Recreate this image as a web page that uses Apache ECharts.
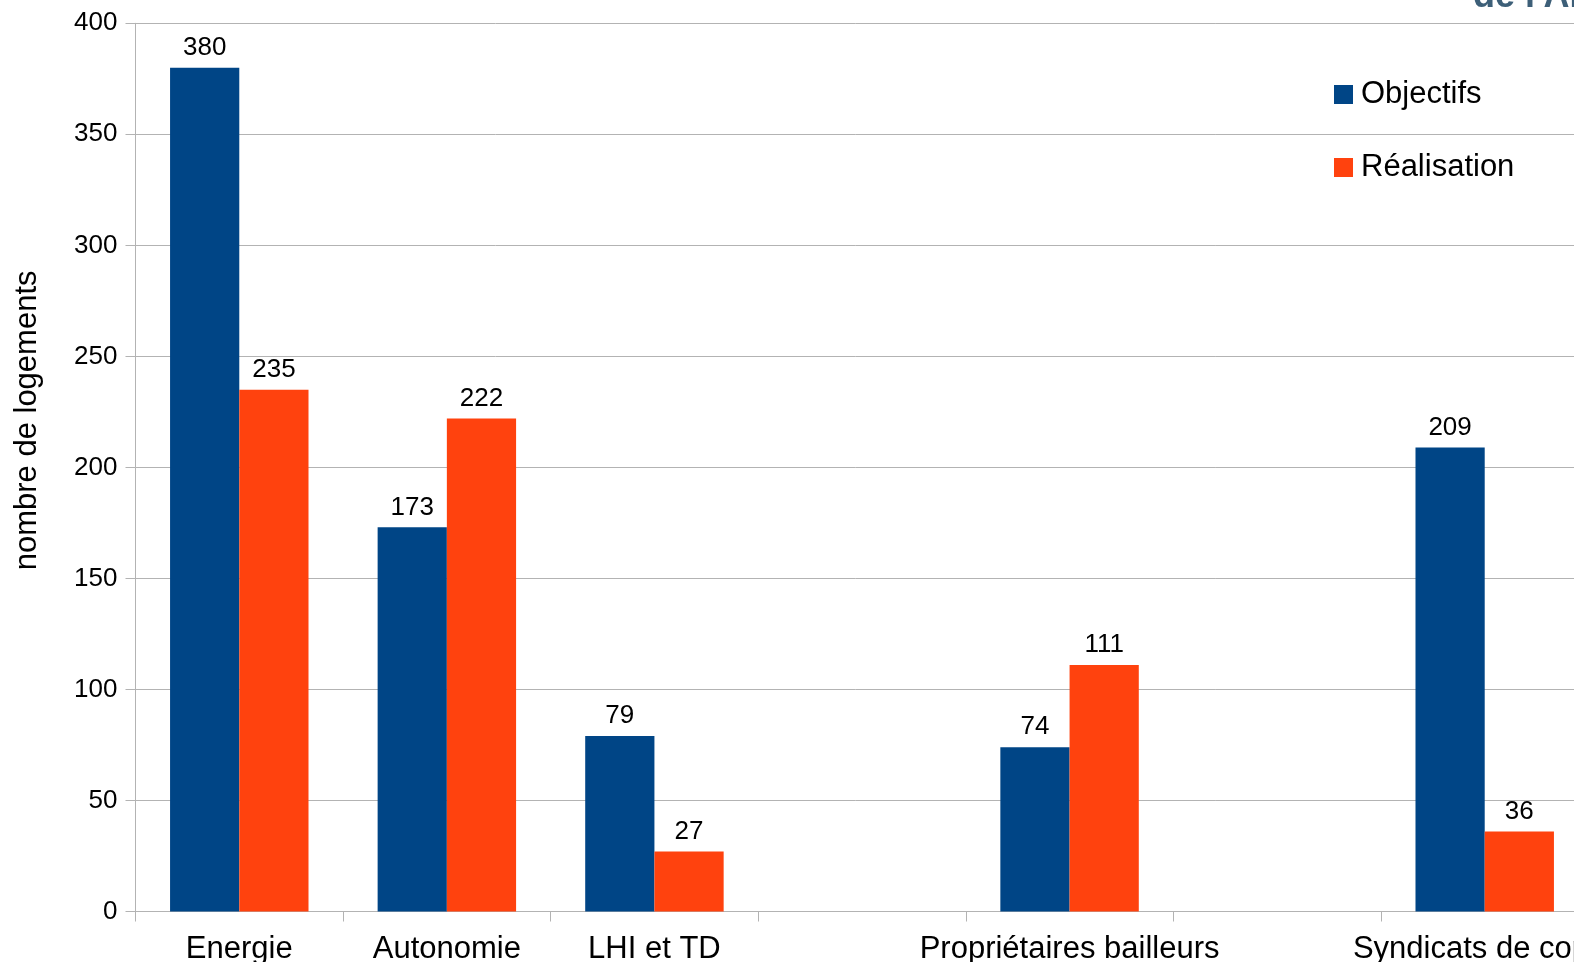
<!DOCTYPE html>
<html>
<head>
<meta charset="utf-8">
<script src="https://cdn.jsdelivr.net/npm/echarts@6/dist/echarts.min.js"></script>
<style>
html, body { margin: 0; padding: 0; background: #fff; }
#chart { width: 1574px; height: 962px; }
</style>
</head>
<body>
<div id="chart"></div>
<script>
// categories (the 4th and 6th are empty slots)
const categories = ['Energie', 'Autonomie', 'LHI et TD', '', 'Propriétaires bailleurs', '', 'Syndicats de copro'];
const objectifs = [380, 173, 79, '-', 74, '-', 209];
const realisation = [235, 222, 27, '-', 111, '-', 36];
const yTicks = { min: 0, max: 400, interval: 50 };

const chart = echarts.init(document.getElementById('chart'));
const font = '"Liberation Sans", Arial, sans-serif';

const option = {
    animation: false,
    backgroundColor: '#fff',
    textStyle: { fontFamily: font },
    graphic: [
        {
            // clipped heading above the chart
            type: 'text',
            left: 1473,
            top: -21,
            style: {
                text: "de l'ANAH",
                fill: '#3d5f78',
                font: 'bold 36px ' + font
            }
        }
    ],
    legend: {
        orient: 'vertical',
        left: 1329,
        top: 74,
        itemWidth: 19,
        itemHeight: 19,
        itemGap: 42,
        icon: 'rect',
        textStyle: { fontSize: 31, color: '#000', fontFamily: font, padding: [0, 0, 0, 3] },
        data: ['Objectifs', 'Réalisation']
    },
    grid: {
        left: 135.5,
        top: 23.3,
        width: 1453,
        height: 888.2,
        containLabel: false,
        outerBoundsMode: 'none'
    },
    xAxis: {
        type: 'category',
        data: categories,
        axisLine: { lineStyle: { color: '#b3b3b3', width: 1 } },
        axisTick: { show: true, length: 10, lineStyle: { color: '#b3b3b3' } },
        axisLabel: { color: '#000', fontSize: 31, margin: 22, interval: 0, fontFamily: font }
    },
    yAxis: {
        type: 'value',
        min: yTicks.min,
        max: yTicks.max,
        interval: yTicks.interval,
        name: 'nombre de logements',
        nameLocation: 'middle',
        nameRotate: 90,
        nameGap: 93,
        nameTextStyle: { fontSize: 31, color: '#000', fontFamily: font, padding: [0, 0, 0, 94] },
        axisLine: { show: true, lineStyle: { color: '#b3b3b3' } },
        axisTick: { show: true, length: 10, lineStyle: { color: '#b3b3b3' } },
        axisLabel: { color: '#000', fontSize: 26, margin: 18, fontFamily: font },
        splitLine: { lineStyle: { color: '#b3b3b3' } }
    },
    series: [
        {
            name: 'Objectifs',
            type: 'bar',
            data: objectifs,
            barGap: '0%',
            barCategoryGap: '33.3%',
            itemStyle: { color: '#004586' },
            label: { show: true, position: 'top', distance: 7, color: '#000', fontSize: 26, fontFamily: font }
        },
        {
            name: 'Réalisation',
            type: 'bar',
            data: realisation,
            itemStyle: { color: '#ff420e' },
            label: { show: true, position: 'top', distance: 7, color: '#000', fontSize: 26, fontFamily: font }
        }
    ]
};

chart.setOption(option);
</script>
</body>
</html>
